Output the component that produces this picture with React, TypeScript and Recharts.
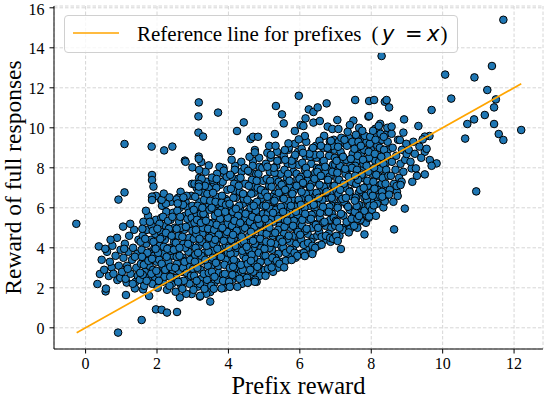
import { ScatterChart, Scatter, XAxis, YAxis, CartesianGrid } from 'recharts'

// [prefix reward, full response reward], grouped by region of the cloud
const leftTail: [number, number][] = [
  [-0.26, 5.2], [0.37, 4.07], [0.33, 2.19], [0.56, 1.82], [1.13, 1.64], [0.91, -0.24], [1.57, 0.39],
  [1.97, 0.92], [2.13, 0.9], [2.28, 0.76], [2.56, 0.79], [1.05, 5.06], [0.4, 2.69], [0.57, 1.96],
  [0.65, 2.59], [0.73, 3.02], [0.89, 2.39], [1.15, 2.26], [1.38, 1.97], [1.61, 1.92], [1.78, 1.59],
  [2.64, 1.52], [2.97, 1.69], [3.2, 1.56], [3.49, 1.79], [3.49, 1.31], [4.04, 2.06], [4.55, 2.26],
  [4.79, 2.3],
  [0.45, 3.4], [0.52, 2.9], [0.6, 3.8], [0.68, 3.3], [0.75, 4.1], [0.78, 2.7], [0.84, 3.6], [0.88, 4.5],
  [0.93, 3.1], [0.97, 2.5], [0.55, 3.95], [0.7, 4.4], [0.98, 3.9],
]

const upperLeft: [number, number][] = [
  [1.09, 9.19], [1.85, 9.06], [2.2, 8.87], [2.43, 9.06], [3.17, 11.27], [3.71, 10.76], [3.16, 10.57],
  [3.16, 9.76], [3.29, 9.56], [1.86, 7.64], [1.86, 7.39], [1.9, 7.06], [1.09, 6.77], [0.92, 6.41],
  [1.97, 6.6], [2.13, 6.4], [2.55, 6.42], [3.17, 8.56], [2.78, 8.36], [2.8, 8.3], [2.99, 8.02],
  [3.24, 8.29], [3.45, 8.12], [3.18, 7.89], [3.17, 8.45], [3.54, 7.51], [3.67, 7.44], [3.17, 7.19],
  [3.17, 7.06], [2.19, 6.71], [2.35, 6.52], [2.74, 6.52], [2.58, 6.22], [1.86, 6.56], [1.86, 6.39],
  [3.87, 7.86],
]

const upperMiddle: [number, number][] = [
  [5.97, 11.6], [5.33, 11.09], [5.5, 10.67], [5.55, 10.22], [4.43, 10.27], [4.24, 9.84], [4.62, 9.44],
  [4.69, 9.55], [4.83, 9.55], [4.74, 8.89], [4.74, 8.77], [4.08, 8.84], [5.3, 9.69], [5.14, 9.1],
  [5.32, 9.1], [6.75, 11.22], [6.25, 10.92], [6.38, 10.79], [6.5, 11.02], [7.55, 11.39], [7.94, 11.34],
  [8.08, 11.39], [8.38, 11.3], [6.16, 10.47], [6.02, 10.14], [6.38, 10.26], [6.56, 10.34], [7.05, 10.39],
  [7.5, 10.36], [7.92, 10.56], [5.86, 9.84], [6.1, 10.09], [6.14, 9.59], [5.97, 9.42], [6.78, 10.06],
  [6.91, 9.94], [7.08, 9.94], [7.4, 10.14], [7.94, 10.59], [5.68, 9.22], [5.58, 8.89], [8.25, 10.2],
  [8.2, 9.9], [8.1, 9.6], [8.3, 9.4],
]

const rightTail: [number, number][] = [
  [8.29, 13.59], [11.7, 15.4], [11.38, 13.09], [10.07, 12.66], [10.89, 12.52], [11.25, 11.89],
  [11.49, 11.42], [10.24, 11.46], [9.69, 10.89], [11.44, 11.02], [11.18, 10.64], [10.88, 10.42],
  [10.69, 10.19], [11.44, 10.19], [12.2, 9.89], [11.57, 9.69], [11.7, 9.39], [10.63, 9.46], [10.94, 6.82],
  [8.43, 11.39], [8.5, 11.02], [8.92, 10.42], [9.32, 10.09], [9.5, 8.8], [9.64, 8.39], [9.83, 8.22],
  [9.69, 8.1], [9.13, 7.97], [9.25, 7.97], [9.5, 7.67], [9.63, 9.59], [9.5, 9.56], [9.44, 9.42],
  [9.35, 9.06], [8.99, 8.69], [8.8, 9.39], [8.9, 9.76], [8.57, 10.06],
  [9.05, 8.9], [9.1, 8.3], [9.18, 9.3], [9.22, 8.7], [9.28, 7.6], [9.4, 8.5], [9.15, 7.3], [9.55, 8.95],
]

const lowerRight: [number, number][] = [
  [8.94, 5.96], [8.64, 4.92], [7.81, 4.67], [7.06, 4.34], [7.15, 3.94], [7.37, 4.77], [7.94, 5.56],
  [7.66, 5.59], [8.07, 6.12], [8.34, 6.02], [8.38, 6.32], [8.31, 6.56], [7.59, 6.09], [7.54, 6.36],
  [8.71, 7.09], [8.82, 7.14], [8.5, 6.66], [8.74, 6.59], [6.35, 3.69], [6.14, 3.59], [5.77, 3.39],
  [5.56, 3.02], [5.21, 3.02], [5.04, 2.6], [4.74, 2.3], [4.54, 2.25], [4.04, 2.05], [3.81, 1.97],
]

const coreLow: [number, number][] = [
  [1.02, 2.8], [1.06, 3.5], [1.1, 4.2], [1.12, 2.45], [1.16, 3.1], [1.2, 3.8], [1.22, 4.6], [1.26, 2.7],
  [1.3, 3.4], [1.33, 4.0], [1.36, 4.9], [1.4, 2.3], [1.42, 3.0], [1.45, 3.7], [1.48, 4.4], [1.25, 5.2],
  [1.38, 3.55], [1.18, 2.95], [1.46, 2.6], [1.08, 3.95], [1.32, 2.2],
  [1.52, 2.4], [1.55, 3.2], [1.57, 3.9], [1.6, 4.6], [1.62, 5.3], [1.64, 2.1], [1.66, 2.8], [1.68, 3.5],
  [1.7, 4.2], [1.72, 4.9], [1.75, 5.6], [1.77, 2.5], [1.79, 3.1], [1.81, 3.8], [1.83, 4.4], [1.85, 5.1],
  [1.87, 2.2], [1.89, 2.9], [1.91, 3.6], [1.93, 4.0], [1.95, 4.7], [1.97, 5.4], [1.99, 3.3], [1.54, 4.3],
  [1.6, 2.65], [1.73, 3.75], [1.88, 4.85], [1.94, 2.55], [1.69, 5.85], [1.58, 3.55],
  [2.02, 2.0], [2.04, 2.7], [2.06, 3.4], [2.08, 4.1], [2.1, 4.8], [2.12, 5.5], [2.14, 6.1], [2.16, 2.3],
  [2.18, 3.0], [2.2, 3.7], [2.22, 4.4], [2.24, 5.1], [2.26, 5.8], [2.28, 1.9], [2.3, 2.6], [2.32, 3.3],
  [2.34, 4.0], [2.36, 4.7], [2.38, 5.4], [2.4, 6.3], [2.42, 2.2], [2.44, 2.9], [2.46, 3.6], [2.48, 4.3],
  [2.49, 5.0], [2.03, 3.75], [2.15, 4.55], [2.27, 3.55], [2.35, 2.1], [2.45, 5.75], [2.07, 5.2],
  [2.21, 2.55], [2.39, 3.85], [2.11, 6.4], [2.33, 4.95], [2.47, 2.5],
  [2.52, 1.8], [2.54, 2.5], [2.56, 3.2], [2.58, 3.9], [2.6, 4.6], [2.62, 5.3], [2.64, 6.0], [2.66, 6.8],
  [2.68, 2.1], [2.7, 2.8], [2.72, 3.5], [2.74, 4.2], [2.76, 4.9], [2.78, 5.6], [2.8, 6.3], [2.82, 1.7],
  [2.84, 2.4], [2.86, 3.1], [2.88, 3.8], [2.9, 4.5], [2.92, 5.2], [2.94, 5.9], [2.96, 6.6], [2.98, 7.2],
  [2.53, 4.25], [2.61, 2.85], [2.67, 5.0], [2.73, 3.0], [2.79, 4.0], [2.85, 5.45], [2.91, 2.2],
  [2.97, 3.45], [2.57, 5.85], [2.69, 6.45], [2.81, 3.35], [2.93, 4.15], [2.55, 3.55], [2.75, 2.35],
  [2.87, 6.0], [2.99, 4.85],
]

const coreMid: [number, number][] = [
  [3.02, 1.9], [3.04, 2.6], [3.06, 3.3], [3.08, 4.0], [3.1, 4.7], [3.12, 5.4], [3.14, 6.1], [3.16, 6.8],
  [3.18, 7.5], [3.2, 2.2], [3.22, 2.9], [3.24, 3.6], [3.26, 4.3], [3.28, 5.0], [3.3, 5.7], [3.32, 6.4],
  [3.34, 7.1], [3.36, 7.8], [3.38, 1.7], [3.4, 2.4], [3.42, 3.1], [3.44, 3.8], [3.46, 4.5], [3.48, 5.2],
  [3.03, 5.9], [3.07, 6.55], [3.11, 2.35], [3.15, 3.75], [3.19, 4.45], [3.23, 5.25], [3.27, 6.0],
  [3.31, 2.7], [3.35, 3.4], [3.39, 4.1], [3.43, 4.95], [3.47, 5.9], [3.05, 7.2], [3.13, 3.0],
  [3.25, 7.45], [3.33, 1.95], [3.41, 6.7], [3.49, 6.35], [3.09, 4.9], [3.21, 1.6], [3.37, 5.35],
  [3.45, 2.75],
  [3.52, 2.1], [3.54, 2.8], [3.56, 3.5], [3.58, 4.2], [3.6, 4.9], [3.62, 5.6], [3.64, 6.3], [3.66, 7.0],
  [3.68, 7.7], [3.7, 2.4], [3.72, 3.1], [3.74, 3.8], [3.76, 4.5], [3.78, 5.2], [3.8, 5.9], [3.82, 6.6],
  [3.84, 7.3], [3.86, 8.0], [3.88, 2.0], [3.9, 2.7], [3.92, 3.4], [3.94, 4.1], [3.96, 4.8], [3.98, 5.5],
  [3.53, 6.0], [3.57, 6.75], [3.61, 2.55], [3.65, 3.25], [3.69, 3.95], [3.73, 4.65], [3.77, 5.45],
  [3.81, 6.25], [3.85, 2.35], [3.89, 3.15], [3.93, 6.15], [3.97, 6.9], [3.55, 7.4], [3.63, 4.4],
  [3.71, 5.75], [3.79, 3.55], [3.87, 4.35], [3.95, 7.55], [3.59, 1.95], [3.67, 5.15], [3.75, 8.05],
  [3.83, 5.0], [3.91, 5.8], [3.99, 3.75],
  [4.02, 2.3], [4.04, 3.0], [4.06, 3.7], [4.08, 4.4], [4.1, 5.1], [4.12, 5.8], [4.14, 6.5], [4.16, 7.2],
  [4.18, 7.9], [4.2, 2.6], [4.22, 3.3], [4.24, 4.0], [4.26, 4.7], [4.28, 5.4], [4.3, 6.1], [4.32, 6.8],
  [4.34, 7.5], [4.36, 8.3], [4.38, 2.2], [4.4, 2.9], [4.42, 3.6], [4.44, 4.3], [4.46, 5.0], [4.48, 5.7],
  [4.03, 6.2], [4.07, 6.95], [4.11, 2.65], [4.15, 3.4], [4.19, 4.1], [4.23, 4.85], [4.27, 5.6],
  [4.31, 2.45], [4.35, 3.15], [4.39, 3.85], [4.43, 6.45], [4.47, 7.2], [4.05, 7.65], [4.13, 4.65],
  [4.21, 5.95], [4.29, 7.1], [4.37, 4.55], [4.45, 8.0], [4.09, 8.4], [4.17, 5.35], [4.25, 2.05],
  [4.33, 5.25], [4.41, 6.7], [4.49, 3.45], [4.01, 4.0], [4.13, 3.05],
  [4.52, 2.5], [4.54, 3.2], [4.56, 3.9], [4.58, 4.6], [4.6, 5.3], [4.62, 6.0], [4.64, 6.7], [4.66, 7.4],
  [4.68, 8.1], [4.7, 2.8], [4.72, 3.5], [4.74, 4.2], [4.76, 4.9], [4.78, 5.6], [4.8, 6.3], [4.82, 7.0],
  [4.84, 7.7], [4.86, 8.5], [4.88, 2.6], [4.9, 3.3], [4.92, 4.0], [4.94, 4.7], [4.96, 5.4], [4.98, 6.1],
  [4.53, 6.4], [4.57, 7.1], [4.61, 2.9], [4.65, 3.65], [4.69, 4.35], [4.73, 5.05], [4.77, 5.85],
  [4.81, 3.05], [4.85, 3.75], [4.89, 4.45], [4.93, 6.65], [4.97, 7.35], [4.55, 7.85], [4.63, 4.8],
  [4.71, 6.1], [4.79, 7.35], [4.87, 5.2], [4.95, 8.0], [4.59, 8.55], [4.67, 5.55], [4.75, 2.4],
  [4.83, 5.45], [4.91, 6.9], [4.99, 3.6], [4.51, 4.05], [4.63, 3.35],
]

const coreHigh: [number, number][] = [
  [5.02, 2.9], [5.04, 3.6], [5.06, 4.3], [5.08, 5.0], [5.1, 5.7], [5.12, 6.4], [5.14, 7.1], [5.16, 7.8],
  [5.18, 8.5], [5.2, 3.2], [5.22, 3.9], [5.24, 4.6], [5.26, 5.3], [5.28, 6.0], [5.3, 6.7], [5.32, 7.4],
  [5.34, 8.1], [5.36, 8.8], [5.38, 3.0], [5.4, 3.7], [5.42, 4.4], [5.44, 5.1], [5.46, 5.8], [5.48, 6.5],
  [5.03, 6.75], [5.07, 7.45], [5.11, 3.3], [5.15, 4.0], [5.19, 4.75], [5.23, 5.5], [5.27, 6.3],
  [5.31, 3.5], [5.35, 4.2], [5.39, 4.9], [5.43, 7.0], [5.47, 7.7], [5.05, 8.2], [5.13, 5.25],
  [5.21, 6.55], [5.29, 7.75], [5.37, 5.6], [5.45, 8.4], [5.09, 8.75], [5.17, 5.95], [5.25, 2.8],
  [5.33, 5.9], [5.41, 7.3], [5.49, 4.05],
  [5.52, 3.3], [5.54, 4.0], [5.56, 4.7], [5.58, 5.4], [5.6, 6.1], [5.62, 6.8], [5.64, 7.5], [5.66, 8.2],
  [5.68, 8.9], [5.7, 3.6], [5.72, 4.3], [5.74, 5.0], [5.76, 5.7], [5.78, 6.4], [5.8, 7.1], [5.82, 7.8],
  [5.84, 8.5], [5.86, 9.2], [5.88, 3.5], [5.9, 4.2], [5.92, 4.9], [5.94, 5.6], [5.96, 6.3], [5.98, 7.0],
  [5.53, 7.2], [5.57, 7.9], [5.61, 3.75], [5.65, 4.45], [5.69, 5.2], [5.73, 5.95], [5.77, 6.7],
  [5.81, 3.9], [5.85, 4.6], [5.89, 5.3], [5.93, 7.45], [5.97, 8.15], [5.55, 8.6], [5.63, 5.7],
  [5.71, 7.0], [5.79, 8.15], [5.87, 6.05], [5.95, 8.8], [5.67, 6.35], [5.83, 5.35], [5.91, 7.7],
  [5.99, 4.5],
  [6.02, 3.7], [6.04, 4.4], [6.06, 5.1], [6.08, 5.8], [6.1, 6.5], [6.12, 7.2], [6.14, 7.9], [6.16, 8.6],
  [6.18, 9.3], [6.2, 4.0], [6.22, 4.7], [6.24, 5.4], [6.26, 6.1], [6.28, 6.8], [6.3, 7.5], [6.32, 8.2],
  [6.34, 8.9], [6.36, 3.8], [6.38, 4.5], [6.4, 5.2], [6.42, 5.9], [6.44, 6.6], [6.46, 7.3], [6.48, 8.0],
  [6.03, 7.55], [6.07, 8.25], [6.11, 4.15], [6.15, 4.85], [6.19, 5.6], [6.23, 6.35], [6.27, 7.1],
  [6.31, 4.3], [6.35, 5.0], [6.39, 5.7], [6.43, 7.75], [6.47, 8.5], [6.05, 8.95], [6.13, 6.0],
  [6.21, 7.35], [6.29, 8.55], [6.37, 6.35], [6.45, 9.1], [6.17, 6.7], [6.33, 5.65], [6.41, 8.65],
  [6.49, 4.6],
  [6.52, 4.1], [6.54, 4.8], [6.56, 5.5], [6.58, 6.2], [6.6, 6.9], [6.62, 7.6], [6.64, 8.3], [6.66, 9.0],
  [6.68, 9.6], [6.7, 4.4], [6.72, 5.1], [6.74, 5.8], [6.76, 6.5], [6.78, 7.2], [6.8, 7.9], [6.82, 8.6],
  [6.84, 9.3], [6.86, 4.3], [6.88, 5.0], [6.9, 5.7], [6.92, 6.4], [6.94, 7.1], [6.96, 7.8], [6.98, 8.5],
  [6.53, 7.95], [6.57, 8.65], [6.61, 4.55], [6.65, 5.25], [6.69, 6.0], [6.73, 6.75], [6.77, 7.5],
  [6.81, 4.7], [6.85, 5.4], [6.89, 6.1], [6.93, 8.15], [6.97, 8.9], [6.55, 9.35], [6.63, 6.4],
  [6.71, 7.75], [6.79, 8.95], [6.87, 6.75], [6.95, 9.4], [6.67, 7.05], [6.83, 6.05], [6.91, 9.1],
  [6.99, 5.1],
]

const coreRight: [number, number][] = [
  [7.02, 4.6], [7.04, 5.3], [7.06, 6.0], [7.08, 6.7], [7.1, 7.4], [7.12, 8.1], [7.14, 8.8], [7.16, 9.5],
  [7.2, 4.9], [7.22, 5.6], [7.24, 6.3], [7.26, 7.0], [7.28, 7.7], [7.3, 8.4], [7.32, 9.1], [7.34, 9.8],
  [7.38, 5.2], [7.4, 5.9], [7.42, 6.6], [7.44, 7.3], [7.46, 8.0], [7.48, 8.7], [7.03, 8.35], [7.07, 9.05],
  [7.11, 5.0], [7.15, 5.7], [7.19, 6.45], [7.23, 7.2], [7.27, 7.95], [7.31, 5.3], [7.35, 6.05],
  [7.39, 6.8], [7.43, 8.45], [7.47, 9.3], [7.13, 6.9], [7.21, 8.55], [7.29, 6.5], [7.37, 7.55],
  [7.45, 5.45], [7.05, 7.75], [7.25, 9.4], [7.41, 4.95],
  [7.52, 5.1], [7.54, 5.8], [7.56, 6.5], [7.58, 7.2], [7.6, 7.9], [7.62, 8.6], [7.64, 9.3], [7.66, 10.0],
  [7.7, 5.4], [7.72, 6.1], [7.74, 6.8], [7.76, 7.5], [7.78, 8.2], [7.8, 8.9], [7.82, 9.6], [7.86, 5.7],
  [7.88, 6.4], [7.9, 7.1], [7.92, 7.8], [7.94, 8.5], [7.96, 9.2], [7.53, 8.95], [7.57, 9.65],
  [7.61, 5.45], [7.65, 6.15], [7.69, 6.9], [7.73, 7.65], [7.77, 8.4], [7.81, 5.85], [7.85, 6.6],
  [7.89, 7.35], [7.93, 8.8], [7.97, 9.55], [7.63, 7.4], [7.71, 9.1], [7.79, 7.0], [7.87, 8.1],
  [7.95, 6.1], [7.55, 7.6], [7.75, 9.85], [7.99, 6.75],
  [8.02, 5.9], [8.04, 6.6], [8.06, 7.3], [8.08, 8.0], [8.1, 8.7], [8.12, 9.4], [8.16, 6.2], [8.18, 6.9],
  [8.2, 7.6], [8.22, 8.3], [8.24, 9.0], [8.26, 9.7], [8.3, 6.8], [8.32, 7.5], [8.34, 8.2], [8.36, 8.9],
  [8.4, 7.2], [8.42, 7.9], [8.44, 8.6], [8.46, 9.3], [8.05, 9.85], [8.14, 7.65], [8.28, 8.55],
  [8.38, 6.45], [8.48, 7.6], [8.09, 6.95], [8.21, 10.1], [8.35, 9.55], [8.45, 10.0], [8.13, 5.6],
  [8.52, 6.9], [8.55, 7.6], [8.58, 8.3], [8.6, 9.0], [8.64, 7.2], [8.68, 7.9], [8.7, 8.6], [8.75, 9.4],
  [8.78, 7.5], [8.82, 8.2], [8.86, 8.9], [8.9, 7.8], [8.95, 8.4], [8.62, 6.3], [8.72, 6.8], [8.98, 9.2],
  [8.57, 9.7], [8.85, 7.3],
]

// extra points inside the densest part of the cloud
const coreFillLeft: [number, number][] = [
  [1.53, 2.75], [1.63, 3.15], [1.71, 2.35], [1.76, 3.35], [1.84, 2.7], [1.9, 4.3], [1.98, 2.85],
  [1.67, 4.45], [1.8, 5.3], [1.96, 3.95], [1.59, 4.95], [1.86, 3.45],
  [2.05, 2.35], [2.09, 4.45], [2.13, 3.2], [2.17, 5.55], [2.19, 4.05], [2.23, 2.9], [2.25, 4.75],
  [2.29, 3.95], [2.31, 5.35], [2.37, 3.05], [2.41, 4.6], [2.43, 5.55], [2.47, 3.9], [2.01, 4.95],
  [2.25, 6.2], [2.37, 2.55],
  [2.51, 3.0], [2.55, 4.95], [2.59, 2.3], [2.63, 4.0], [2.65, 5.55], [2.71, 4.55], [2.73, 6.15],
  [2.77, 3.3], [2.81, 5.05], [2.83, 2.75], [2.87, 4.2], [2.89, 5.75], [2.93, 3.4], [2.95, 2.6],
  [2.97, 5.5], [2.59, 6.5], [2.71, 1.95], [2.83, 6.6], [2.99, 6.1], [2.63, 3.6],
  [3.01, 2.95], [3.03, 4.45], [3.07, 3.65], [3.11, 5.7], [3.13, 2.05], [3.17, 4.1], [3.19, 6.3],
  [3.21, 3.3], [3.25, 2.45], [3.27, 4.7], [3.29, 6.75], [3.33, 3.75], [3.35, 5.55], [3.37, 2.2],
  [3.41, 4.35], [3.43, 6.05], [3.47, 3.3], [3.49, 4.75], [3.11, 7.0], [3.23, 5.7], [3.39, 7.3],
  [3.45, 7.0], [3.05, 5.25], [3.31, 5.35],
  [3.51, 3.05], [3.53, 4.6], [3.57, 3.85], [3.59, 5.9], [3.61, 2.25], [3.65, 4.2], [3.67, 6.55],
  [3.69, 3.45], [3.73, 2.75], [3.75, 4.95], [3.77, 7.15], [3.81, 3.95], [3.83, 5.65], [3.85, 2.65],
  [3.89, 4.6], [3.91, 6.45], [3.95, 3.7], [3.97, 5.2], [3.59, 7.25], [3.71, 6.2], [3.87, 7.7],
  [3.93, 2.4], [3.55, 5.25], [3.79, 5.6], [3.99, 6.35],
  [4.01, 3.35], [4.03, 4.85], [4.07, 4.15], [4.09, 6.0], [4.11, 2.4], [4.15, 4.45], [4.17, 6.85],
  [4.19, 3.75], [4.23, 3.0], [4.25, 5.2], [4.27, 7.45], [4.31, 4.2], [4.33, 5.9], [4.35, 2.8],
  [4.39, 4.9], [4.41, 6.2], [4.45, 3.9], [4.47, 5.45], [4.09, 7.55], [4.21, 6.5], [4.37, 7.8],
  [4.43, 2.55], [4.05, 5.55], [4.29, 5.8], [4.49, 6.6], [4.19, 8.1],
  [4.51, 3.6], [4.53, 5.15], [4.57, 4.4], [4.59, 6.25], [4.61, 2.65], [4.65, 4.7], [4.67, 7.05],
  [4.69, 3.95], [4.73, 3.2], [4.75, 5.45], [4.77, 7.7], [4.81, 4.45], [4.83, 6.2], [4.85, 3.05],
  [4.89, 5.15], [4.91, 6.45], [4.95, 4.15], [4.97, 5.7], [4.59, 7.8], [4.71, 6.75], [4.87, 8.05],
  [4.93, 2.85], [4.55, 5.8], [4.79, 6.05], [4.99, 6.85], [4.69, 8.35],
]

const coreFillRight: [number, number][] = [
  [5.01, 3.95], [5.03, 5.45], [5.07, 4.7], [5.09, 6.55], [5.11, 2.95], [5.15, 5.0], [5.17, 7.35],
  [5.19, 4.25], [5.23, 3.5], [5.25, 5.75], [5.27, 8.0], [5.31, 4.75], [5.33, 6.5], [5.35, 3.35],
  [5.39, 5.45], [5.41, 6.75], [5.45, 4.45], [5.47, 6.05], [5.09, 8.05], [5.21, 7.05], [5.37, 8.35],
  [5.43, 3.2], [5.05, 6.1], [5.29, 6.35], [5.49, 7.15], [5.19, 8.65],
  [5.51, 4.3], [5.53, 5.8], [5.57, 5.05], [5.59, 6.9], [5.61, 3.35], [5.65, 5.35], [5.67, 7.7],
  [5.69, 4.6], [5.73, 3.9], [5.75, 6.1], [5.77, 8.35], [5.81, 5.1], [5.83, 6.85], [5.85, 3.75],
  [5.89, 5.8], [5.91, 7.1], [5.95, 4.8], [5.97, 6.4], [5.59, 8.4], [5.71, 7.35], [5.87, 8.65],
  [5.93, 3.6], [5.55, 6.45], [5.79, 6.7], [5.99, 7.45], [5.69, 9.0],
  [6.01, 4.65], [6.03, 6.15], [6.07, 5.4], [6.09, 7.25], [6.11, 3.75], [6.15, 5.7], [6.17, 8.0],
  [6.19, 4.95], [6.23, 4.25], [6.25, 6.45], [6.27, 8.7], [6.31, 5.45], [6.33, 7.2], [6.35, 4.1],
  [6.39, 6.15], [6.41, 7.45], [6.45, 5.15], [6.47, 6.75], [6.09, 8.75], [6.21, 7.7], [6.37, 9.0],
  [6.43, 4.0], [6.05, 6.8], [6.29, 7.05], [6.49, 7.8],
  [6.51, 5.0], [6.53, 6.5], [6.57, 5.75], [6.59, 7.6], [6.61, 4.15], [6.65, 6.05], [6.67, 8.35],
  [6.69, 5.3], [6.73, 4.6], [6.75, 6.8], [6.77, 9.0], [6.81, 5.8], [6.83, 7.55], [6.85, 4.5],
  [6.89, 6.5], [6.91, 7.8], [6.95, 5.5], [6.97, 7.1], [6.59, 9.1], [6.71, 8.05], [6.87, 9.35],
  [6.93, 4.45], [6.55, 7.15], [6.79, 7.4], [6.99, 8.15],
  [7.01, 5.35], [7.03, 6.85], [7.07, 6.1], [7.09, 7.95], [7.11, 4.6], [7.15, 6.4], [7.17, 8.65],
  [7.19, 5.65], [7.23, 5.0], [7.25, 7.15], [7.27, 9.2], [7.31, 6.15], [7.33, 7.9], [7.35, 4.9],
  [7.39, 6.85], [7.41, 8.1], [7.45, 5.85], [7.47, 7.45], [7.09, 9.3], [7.21, 8.35], [7.37, 9.5],
  [7.43, 5.2], [7.05, 7.45], [7.29, 7.75], [7.49, 8.5],
  [7.51, 5.75], [7.53, 7.2], [7.57, 6.45], [7.59, 8.3], [7.61, 5.0], [7.65, 6.75], [7.67, 8.95],
  [7.69, 6.0], [7.73, 5.35], [7.75, 7.5], [7.77, 9.5], [7.81, 6.5], [7.83, 8.25], [7.85, 5.25],
  [7.89, 7.2], [7.91, 8.45], [7.95, 6.2], [7.97, 7.8], [7.59, 9.55], [7.71, 8.7], [7.87, 9.3],
  [7.93, 5.5], [7.55, 8.1], [7.79, 8.05], [7.99, 8.9],
  [8.01, 6.3], [8.03, 7.7], [8.07, 6.95], [8.11, 8.35], [8.15, 7.1], [8.17, 9.1], [8.19, 6.45],
  [8.23, 7.95], [8.27, 8.95], [8.29, 7.2], [8.33, 8.6], [8.37, 7.6], [8.41, 8.25], [8.43, 6.85],
  [8.47, 8.9], [8.11, 9.95], [8.25, 6.6], [8.39, 9.65],
]

// y = x reference segment endpoints
const refStart = -0.25
const refEnd = 12.2

const xTicks = [0, 2, 4, 6, 8, 10, 12]
const yTicks = [0, 2, 4, 6, 8, 10, 12, 14, 16]

const points = [
  ...leftTail, ...coreLow, ...coreFillLeft, ...coreMid, ...upperLeft, ...coreHigh, ...coreFillRight,
  ...upperMiddle, ...coreRight, ...lowerRight, ...rightTail,
].map(([x, y]) => ({ x, y }))
const refLine = [{ x: refStart, y: refStart }, { x: refEnd, y: refEnd }]

const SERIF = '"Liberation Serif", "Times New Roman", serif'
const MATH = '"DejaVu Sans", sans-serif'

function Dot(props: any) {
  const { cx, cy } = props
  if (cx == null || cy == null) return <g />
  return <circle cx={cx} cy={cy} r={3.8} fill="#1f77b4" stroke="#000" strokeWidth={1} />
}

function XTick({ x, y, payload }: any) {
  return (
    <text x={x} y={y} dy="0.71em" textAnchor="middle" fontSize={16} fill="#000"
      style={{ fontFamily: SERIF }}>
      {payload.value}
    </text>
  )
}

function YTick({ x, y, payload }: any) {
  return (
    <text x={x} y={y} dy="0.36em" textAnchor="end" fontSize={16} fill="#000"
      style={{ fontFamily: SERIF }}>
      {payload.value}
    </text>
  )
}

export default function App() {
  return (
    <div style={{
      position: 'absolute', left: 0, top: 0, width: 545, height: 398, background: '#fff', fontFamily: SERIF,
    }}>
      <ScatterChart width={545} height={398} margin={{ top: 6, right: 2, bottom: 0, left: 0 }}
        style={{ fontFamily: SERIF }}>
        <CartesianGrid stroke="#d6d6d6" strokeDasharray="3.5 2" />
        <XAxis
          type="number" dataKey="x" domain={[-0.885, 12.81]} ticks={xTicks} allowDataOverflow
          height={49} tick={(p: any) => <XTick {...p} />} tickSize={4.5} tickMargin={4}
          axisLine={{ stroke: '#000' }} tickLine={{ stroke: '#000' }}
          label={{
            content: ({ viewBox }: any) => (
              <text x={viewBox.x + viewBox.width / 2} y={viewBox.y + 45} textAnchor="middle"
                fontFamily={SERIF} fontSize={24.5} fill="#000">Prefix reward</text>
            ),
          }}
        />
        <XAxis xAxisId="top" orientation="top" type="number" domain={[-0.885, 12.81]} height={0}
          tick={false} tickLine={false} axisLine={{ stroke: '#000' }} />
        <YAxis
          type="number" dataKey="y" domain={[-1.06, 16.09]} ticks={yTicks} allowDataOverflow
          width={54} tick={(p: any) => <YTick {...p} />} tickSize={4.5} tickMargin={5}
          axisLine={{ stroke: '#000' }} tickLine={{ stroke: '#000' }}
          label={{
            content: ({ viewBox }: any) => (
              <text x={21} y={viewBox.y + viewBox.height / 2} textAnchor="middle"
                transform={`rotate(-90 21 ${viewBox.y + viewBox.height / 2})`}
                fontFamily={SERIF} fontSize={23.5} fill="#000">Reward of full responses</text>
            ),
          }}
        />
        <YAxis yAxisId="right" orientation="right" type="number" domain={[-1.06, 16.09]} width={0}
          tick={false} tickLine={false} axisLine={{ stroke: '#000' }} />
        <Scatter data={points} shape={Dot} isAnimationActive={false} />
        <Scatter data={refLine} line={{ stroke: '#FFA500', strokeWidth: 1.7 }} shape={() => <g />}
          isAnimationActive={false} />
      </ScatterChart>
      <div style={{
        position: 'absolute', left: 64, top: 15, width: 392, height: 36,
        border: '1px solid #d0d0d0', borderRadius: 4, background: 'rgba(255,255,255,0.8)',
      }}>
        <svg width={392} height={36} style={{ display: 'block' }}>
          <line x1={8} x2={54} y1={17} y2={17} stroke="#FFA500" strokeWidth={1.7} />
          <text y={25} fontFamily={SERIF} fontSize={21} fill="#000">
            <tspan x={72}>Reference line for prefixes</tspan>
            <tspan x={306.5}>(</tspan>
            <tspan x={317} fontFamily={MATH} fontStyle="italic" fontSize={21}>y</tspan>
            <tspan x={340} fontFamily={MATH} fontSize={21}>=</tspan>
            <tspan x={362} fontFamily={MATH} fontStyle="italic" fontSize={21}>x</tspan>
            <tspan x={375.5}>)</tspan>
          </text>
        </svg>
      </div>
    </div>
  )
}
